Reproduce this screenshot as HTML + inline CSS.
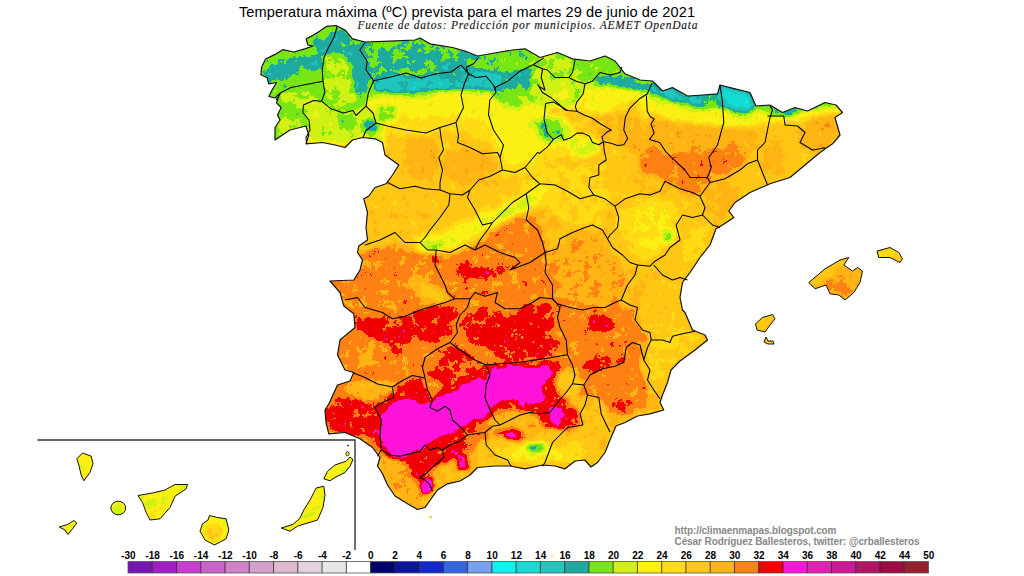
<!DOCTYPE html>
<html><head><meta charset="utf-8"><title>Temperatura maxima</title>
<style>
html,body{margin:0;padding:0;background:#fff;}
body{width:1024px;height:576px;overflow:hidden;font-family:"Liberation Sans",sans-serif;}
svg{display:block;position:absolute;left:0;top:0;}
text{font-family:"Liberation Sans",sans-serif;}
.ttl{font-size:14.6px;fill:#000;}
.sub{font-family:"Liberation Serif",serif;font-style:italic;font-size:11.5px;fill:#111;stroke:#333;stroke-width:0.15px;}
.lg{font-size:10px;font-weight:bold;fill:#000;text-anchor:middle;}
.cr{font-size:10px;font-weight:bold;fill:#888;}
</style></head><body>
<svg width="1024" height="576" viewBox="0 0 1024 576">
<defs>
<clipPath id="ml"><path d="M336,25.5 L345,30 L352.5,38.8 L365,42 L390,41.2 L415,40 L420,38 L430,43.8 L452.5,47.5 L465,51 L477.5,56 L497.5,52.5 L512.5,50 L525,48.8 L540,57.5 L557.5,52.5 L572.5,58.8 L590,61 L605,56 L615,61 L625,73.8 L640,80 L652.5,81 L662.5,91 L672.5,87.5 L687.5,96 L702.5,95 L717.5,93.8 L720,85 L735,88.8 L750,92.5 L756,106 L770,105 L782.5,112.5 L795,107.5 L807.5,111 L825,102.5 L836,105 L842.5,112.5 L835,117.5 L840,135 L832.5,143.8 L820,152.5 L805,165 L790,177.5 L770,183.8 L750,192.5 L735,202.5 L728.8,211 L733.8,217.5 L722.5,225 L716,228.8 L710,245 L700,257.5 L690,272.5 L682.5,282.5 L680,297.5 L682.5,310 L685,312.5 L692.5,330 L705,335 L707.5,340 L695,350 L680,361 L671,370 L667.5,382.5 L662.5,395 L660,402.5 L663.8,410 L650,413.8 L637.5,416 L625,422.5 L616,426 L610,440 L605,452.5 L597.5,462.5 L591,467 L585,460 L575,461 L565,468.8 L555,466 L542.5,465 L525,468.8 L510,466 L495,466 L477.5,467.5 L470,475 L460,481 L447.5,483.8 L437.5,490 L431,498.8 L425,507.5 L417.5,509.5 L407.5,503.8 L395,496 L387.5,485 L382.5,473.8 L377.5,466 L380,457.5 L372.5,447.5 L360,438.8 L345,432.5 L328.8,433.8 L326,422.5 L325,410 L328.8,404 L337.5,385 L350,381 L353.8,372.5 L345,370 L337.5,355 L340,340 L355,327.5 L353.8,313.8 L343.8,306 L340,292.5 L330,281 L353.8,280 L360,270 L362.5,260 L357.5,252.5 L358.8,246 L367.5,240 L366,227.5 L367.5,212.5 L363.8,198.8 L368.8,196 L375,187.5 L386,183.8 L392.5,175 L398.8,165 L385,155 L382.5,142.5 L375,138.8 L362.5,137.5 L352.5,140 L345,147.5 L335,145 L322.5,142.5 L306,143.8 L308.8,135 L306,126 L290,130 L275,140 L275,127.5 L280,120 L277.5,115 L281.2,107.5 L276.5,102.8 L279.7,93.4 L275,98 L268.8,96.5 L271.9,90.3 L276.5,82.5 L268.8,84 L267.2,77.8 L260.9,74.7 L261.7,66.9 L265.6,59 L275,54.4 L282.8,49.7 L293.8,52 L304.7,48.9 L313,46 L307.8,45 L306.2,38.8 L312.5,35.6 L318.8,31.7 L326.6,26.3Z"/></clipPath>
<clipPath id="isl"><path d="M808.8,282.5 L825,268.8 L840,260 L848.8,257.5 L843.8,265 L852.5,271 L857.5,267.5 L862.5,271 L860,282.5 L853.8,292.5 L845,300 L838.8,295 L830,293.8 L826,285 L815,288.8Z"/><path d="M877,251 L890,247.5 L898.8,252.5 L902.5,258.8 L900,262.5 L890,257.5 L878.8,257.5Z"/><path d="M755.5,323.8 L762.5,317.5 L772.5,314.5 L775,318.8 L770,325 L765,332 L757,330Z"/><path d="M764,342 L766,337 L768,341 L773,341 L774,344 L768,344Z"/><path d="M76.8,458.8 L82.5,453 L91.2,456.2 L93,463.8 L90,472.5 L83.8,480.8 L81.2,475 L78.8,465Z"/><path d="M59.2,527 L67.5,524.5 L73.8,520.5 L76.8,523 L72.5,528.8 L68,534.5 L65,530Z"/><path d="M138,495.5 L152.5,493 L165,490 L175,484.5 L187.5,484.5 L186.2,488.8 L175,496.2 L170,507.5 L160,518.8 L150,520 L146.2,512.5 L142.5,502.5Z"/><path d="M209.5,515.5 L217.5,517.5 L226.2,518.8 L228.8,530 L226.2,538.8 L214.5,545 L205,540 L200,531.2 L202.5,523.8 L208,520Z"/><path d="M323.8,478.8 L327.5,471.2 L335,465 L346.2,461.2 L350,457 L353,459.5 L350,466.2 L345,472.5 L335,477.5 L330,480.8Z"/><path d="M316.2,488 L323.8,486.2 L325,495 L323,507.5 L317.5,520 L305,523.8 L297.5,526.2 L290,531.2 L281.2,528 L292.5,524.5 L299.5,518.8 L303.8,510 L310,500 L313.8,492.5Z"/><ellipse cx="118.3" cy="508" rx="7.4" ry="6.8"/></clipPath>
<filter id="temp" filterUnits="userSpaceOnUse" x="0" y="0" width="1024" height="576" color-interpolation-filters="sRGB">
<feGaussianBlur in="SourceGraphic" stdDeviation="2.2" result="b"/>
<feTurbulence type="fractalNoise" baseFrequency="0.1" numOctaves="4" seed="11" result="t"/>
<feColorMatrix in="t" type="matrix" values="1 0 0 0 0  1 0 0 0 0  1 0 0 0 0  0 0 0 0 1" result="n"/>
<feComposite in="b" in2="n" operator="arithmetic" k1="0" k2="1" k3="0.13" k4="-0.065" result="v0"/>
<feTurbulence type="fractalNoise" baseFrequency="0.32" numOctaves="2" seed="5" result="t2"/>
<feColorMatrix in="t2" type="matrix" values="1 0 0 0 0  1 0 0 0 0  1 0 0 0 0  0 0 0 0 1" result="n2"/>
<feComposite in="v0" in2="n2" operator="arithmetic" k1="0" k2="1" k3="0.06" k4="-0.03" result="v"/>
<feComponentTransfer in="v">
<feFuncR type="discrete" tableValues="0.0784 0.0784 0.1176 0.1176 0.4706 0.8235 0.9804 1.0000 1.0000 1.0000 1.0000 0.9412 1.0000 1.0000 1.0000 0.7059"/>
<feFuncG type="discrete" tableValues="0.9412 0.8627 0.7843 0.6667 0.9020 0.9412 0.9412 0.8627 0.7843 0.7059 0.5098 0.0000 0.0784 0.0784 0.0784 0.0784"/>
<feFuncB type="discrete" tableValues="0.9412 0.8235 0.7451 0.6275 0.0784 0.0784 0.0784 0.0784 0.0784 0.0784 0.0784 0.0000 0.8627 0.8627 0.8627 0.3922"/>
</feComponentTransfer>
</filter>
</defs>
<rect width="1024" height="576" fill="#fff"/>

<g clip-path="url(#ml)"><g filter="url(#temp)"><rect x="0" y="0" width="1024" height="576" fill="#8f8f8f"/>
<path d="M372,120 L620,110 L640,150 L630,190 L640,200 L612,205 L600,230 L575,225 L545,212 L525,200 L490,218 L465,234 L440,246 L400,242 L360,255 L350,245 L360,225 L358,198 L385,180 L397,165 L380,150Z" fill="#878787"/>
<path d="M530,165 L600,160 L612,200 L600,226 L572,228 L548,208 L532,192Z" fill="#7d7d7d"/>
<path d="M405,138 L425,135 L438,145 L440,165 L432,182 L415,180 L405,165Z" fill="#979797"/>
<path d="M445,152 L470,148 L492,152 L496,170 L485,182 L460,184 L445,172Z" fill="#979797"/>
<path d="M372,190 L400,186 L430,195 L445,215 L440,240 L410,242 L380,240 L362,245 L366,215Z" fill="#898989"/>
<path d="M240,159 L275,157 L303,146 L322,144 L340,138 L355,132 L362,121 L370,112 L390,135 L415,137 L440,134 L465,132 L490,144 L505,176 L522,178 L535,172 L545,164 L560,156 L575,158 L590,156 L615,116 L630,107 L647,120 L665,127 L685,133 L700,136 L715,134 L725,136 L737,141 L750,141 L760,136 L775,130 L790,128 L800,129 L812,125 L870,117 L870,117 L870,0 L240,0 L240,159Z" fill="#787878"/>
<path d="M240,153 L275,151 L303,140 L322,138 L340,132 L355,126 L362,115 L370,106 L390,117 L415,119 L440,116 L465,114 L490,126 L505,162 L522,164 L535,158 L545,150 L560,144 L575,146 L590,144 L615,106 L630,99 L647,110 L665,117 L685,123 L700,126 L715,124 L725,126 L737,131 L750,131 L760,126 L775,123 L790,121 L800,122 L812,118 L870,110 L870,110 L870,0 L240,0 L240,153Z" fill="#686868"/>
<path d="M240,147 L275,145 L303,134 L322,132 L340,126 L355,120 L362,109 L370,100 L390,97 L415,99 L440,96 L465,94 L490,96 L505,108 L522,110 L535,104 L545,96 L560,88 L575,90 L590,88 L615,88 L630,91 L647,97 L665,104 L685,110 L700,113 L715,111 L725,113 L737,118 L750,118 L760,113 L775,117 L790,115 L800,116 L812,112 L870,104 L870,104 L870,0 L240,0 L240,147Z" fill="#585858"/>
<path d="M240,143 L275,141 L303,130 L322,128 L340,122 L355,116 L362,105 L370,96 L390,93 L415,95 L440,92 L465,90 L490,92 L505,104 L522,106 L535,100 L545,92 L560,84 L575,86 L590,84 L615,84 L630,87 L647,93 L665,100 L685,106 L700,109 L715,107 L725,109 L737,114 L750,114 L760,109 L775,113 L790,111 L800,112 L812,108 L870,100 L870,100 L870,0 L240,0 L240,143Z" fill="#484848"/>
<path d="M552,106 L575,108 L600,116 L625,128 L640,140 L620,150 L600,142 L580,134 L560,124 L548,114Z" fill="#838383"/>
<path d="M590,118 L615,112 L640,118 L660,130 L660,150 L640,155 L620,148 L600,136Z" fill="#939393"/>
<path d="M530,118 L555,114 L572,124 L570,140 L552,146 L536,138Z" fill="#585858"/>
<path d="M538,122 L556,119 L566,128 L562,138 L548,141 L540,133Z" fill="#444444"/>
<path d="M572,138 L596,140 L600,152 L585,158 L570,152Z" fill="#5c5c5c"/>
<path d="M240,40 L310,30 L336,20 L332,52 L324,60 L322,100 L310,104 L303,128 L275,141 L240,146Z" fill="#474747"/>
<path d="M268,66 L281,59 L306,55 L321,57 L323,65 L318,70 L301,69 L286,74 L276,82 L268,87 L263,77Z" fill="#383838"/>
<path d="M313,42 L331,35 L338,28 L348,35 L356,45 L366,47 L366,60 L373,70 L368,85 L361,97 L356,92 L353,80 L351,65 L343,55 L331,52 L323,57 L316,52Z" fill="#363636"/>
<path d="M328,57 L343,55 L351,70 L353,90 L356,100 L351,107 L338,105 L328,100 L325,85 L326,67Z" fill="#535353"/>
<path d="M282,94 L305,90 L318,98 L312,106 L300,108 L286,106Z" fill="#545454"/>
<path d="M280,120 L300,116 L304,128 L290,132 L277,136Z" fill="#545454"/>
<path d="M302,106 L321,102 L331,110 L343,112 L353,111 L358,116 L366,106 L373,112 L385,118 L385,150 L366,137 L356,140 L343,146 L331,143 L318,144 L307,145 L311,132 L306,120Z" fill="#585858"/>
<path d="M337,116 L352,114 L356,124 L350,131 L339,129Z" fill="#444444"/>
<path d="M364,120 L374,116 L378,128 L371,138 L363,132Z" fill="#3c3c3c"/>
<path d="M376,106 L396,106 L397,120 L380,121Z" fill="#484848"/>
<path d="M361,44 L420,36 L480,54 L500,54 L500,70 L470,70 L448,72 L418,77 L396,74 L373,80 L366,60Z" fill="#414141"/>
<path d="M380,52 L410,50 L430,52 L450,58 L452,66 L430,68 L408,68 L388,70 L378,62Z" fill="#3c3c3c"/>
<path d="M372,80 L396,74 L418,77 L448,72 L470,69 L490,72 L505,76 L520,82 L522,90 L505,91 L490,90 L470,89 L448,89 L431,90 L411,92 L391,93 L376,91Z" fill="#292929"/>
<path d="M440,60 L462,62 L472,70 L470,86 L448,86 L440,76Z" fill="#343434"/>
<path d="M503,74 L528,67 L552,70 L560,80 L545,89 L522,90 L505,86Z" fill="#383838"/>
<path d="M490,90 L525,88 L530,100 L520,108 L500,106Z" fill="#4c4c4c"/>
<path d="M528,52 L572,58 L580,72 L584,92 L572,106 L545,108 L530,100 L530,80 L538,60Z" fill="#515151"/>
<path d="M540,82 L570,80 L576,98 L556,106 L540,100Z" fill="#5b5b5b"/>
<path d="M575,58 L605,55 L625,74 L640,80 L640,88 L600,86 L584,88 L580,72Z" fill="#494949"/>
<path d="M596,76 L622,74 L645,84 L650,92 L632,90 L612,86 L598,84Z" fill="#383838"/>
<path d="M648,82 L662,91 L672,87 L687,96 L702,95 L717,94 L720,85 L735,89 L750,92 L756,106 L750,112 L737,112 L725,107 L715,105 L700,107 L685,103 L672,100 L660,97 L650,92Z" fill="#2b2b2b"/>
<path d="M722,88 L748,94 L752,106 L738,108 L726,102Z" fill="#161616"/>
<path d="M701,99 L716,98 L718,105 L703,107Z" fill="#484848"/>
<path d="M768,105 L782,112 L795,107 L802,112 L786,117 L772,113Z" fill="#383838"/>
<path d="M745,126 L800,121 L845,112 L845,140 L800,175 L750,200 L735,215 L715,232 L700,262 L685,290 L688,320 L705,340 L680,365 L665,390 L640,395 L630,350 L640,310 L650,270 L625,265 L610,240 L612,205 L640,192 L690,198 L720,188 L745,165Z" fill="#878787"/>
<path d="M650,118 L700,124 L745,128 L760,135 L760,150 L745,152 L700,152 L660,156 L640,150 L640,128Z" fill="#979797"/>
<path d="M805,120 L838,112 L842,135 L825,150 L805,150 L795,135Z" fill="#979797"/>
<path d="M765,140 L785,138 L790,160 L780,178 L765,178 L760,160Z" fill="#949494"/>
<path d="M640,158 L665,155 L680,152 L702,150 L722,147 L745,150 L747,160 L735,170 L715,177 L710,187 L697,195 L680,190 L667,182 L655,174 L640,170Z" fill="#a7a7a7"/>
<path d="M635,150 L650,146 L665,152 L660,160 L640,162Z" fill="#a7a7a7"/>
<path d="M702,185 L730,180 L745,190 L735,205 L722,222 L706,212Z" fill="#949494"/>
<path d="M620,207 L635,198 L655,196 L672,202 L682,215 L680,235 L668,248 L655,258 L640,260 L627,250 L620,235 L616,220Z" fill="#7c7c7c"/>
<path d="M635,208 L655,204 L670,212 L674,232 L662,246 L648,252 L634,244 L628,226Z" fill="#707070"/>
<path d="M660,230 L672,229 L675,241 L664,245Z" fill="#505050"/>
<path d="M690,225 L712,225 L706,245 L694,262 L684,262 L686,240Z" fill="#7c7c7c"/>
<path d="M414,236 L436,230 L455,224 L478,212 L500,201 L522,189 L540,178 L556,186 L544,203 L526,216 L504,228 L482,239 L460,250 L436,257 L416,256Z" fill="#797979"/>
<path d="M418,240 L436,235 L455,229 L478,218 L500,208 L522,196 L540,184 L550,188 L538,201 L521,212 L500,223 L478,233 L456,244 L436,252 L420,252Z" fill="#646464"/>
<path d="M422,242 L438,240 L446,244 L440,250 L426,252Z" fill="#545454"/>
<path d="M498,212 L522,199 L533,192 L540,198 L523,211 L505,220Z" fill="#5a5a5a"/>
<path d="M350,262 L357,252 L375,247 L395,243 L407,251 L425,253 L435,253 L450,255 L470,247 L480,240 L490,231 L505,222 L520,213 L530,214 L540,222 L545,240 L548,252 L548,262 L556,280 L560,296 L575,300 L590,304 L600,306 L617,300 L625,310 L637,305 L640,325 L650,342 L645,350 L640,365 L645,382 L650,395 L645,407 L635,412 L622,417 L610,412 L600,400 L585,395 L570,400 L555,410 L540,415 L525,412 L510,420 L500,432 L490,445 L475,455 L460,462 L445,470 L435,480 L425,495 L415,505 L400,498 L390,485 L383,470 L378,458 L370,447 L355,437 L330,434 L320,410 L335,385 L350,375 L335,355 L338,340 L356,327 L352,313 L342,305 L338,290 L328,281 L352,279Z" fill="#a5a5a5"/>
<path d="M548,252 L560,247 L572,236 L590,231 L600,241 L608,258 L620,266 L628,280 L620,298 L600,305 L580,300 L562,292 L552,272Z" fill="#9c9c9c"/>
<path d="M408,276 L420,276 L436,284 L450,296 L448,304 L434,304 L420,296 L410,286Z" fill="#949494"/>
<path d="M416,281 L426,283 L440,293 L444,300 L436,300 L424,293Z" fill="#838383"/>
<path d="M357,350 L372,348 L374,360 L360,363Z" fill="#939393"/>
<path d="M345,385 L370,380 L392,384 L396,396 L375,400 L350,398Z" fill="#979797"/>
<path d="M452,267 L465,261 L485,268 L502,267 L510,270 L498,276 L482,280 L465,278 L452,276Z" fill="#b6b6b6"/>
<path d="M432,257 L441,256 L442,262 L433,262Z" fill="#b7b7b7"/>
<path d="M355,318.5 L370,314.8 L395,321 L415,311 L430,306 L450,303.5 L460,308.5 L455,321 L450,333.5 L440,341 L427.5,343.5 L415,338.5 L405,346 L397.5,356 L390,346 L377.5,341 L365,333.5 L355,328.5Z" fill="#b6b6b6"/>
<path d="M465,316 L480,306 L495,311 L515,313.5 L532.5,301 L550,303.5 L560,311 L555,321 L552.5,336 L560,346 L555,356 L540,358.5 L525,356 L515,361 L500,358.5 L490,351 L480,346 L470,343.5 L460,336 L460,323.5Z" fill="#b4b4b4"/>
<path d="M500,318 L530,310 L548,315 L546,335 L530,345 L505,345 L492,335Z" fill="#b6b6b6"/>
<path d="M437.5,346 L455,343.5 L470,353.5 L485,363.5 L495,368.5 L500,376 L485,381 L470,383.5 L460,391 L445,388.5 L432.5,381 L430,371 L437.5,361 L440,353.5Z" fill="#b2b2b2"/>
<path d="M587,317 L600,314 L612,316 L615,325 L610,334 L597,336 L590,332 L586,325Z" fill="#b6b6b6"/>
<path d="M325,411 L332.5,401 L345,396 L360,398.5 L370,406 L380,403.5 L377.5,416 L380,436 L350,436 L330,431Z" fill="#b6b6b6"/>
<path d="M375,403.5 L395,391 L405,381 L420,378.5 L427.5,391 L430,401 L420,403.5 L405,398.5 L390,406 L380,418.5Z" fill="#b7b7b7"/>
<path d="M378,420 L390,404 L405,396 L420,400 L430,402 L438,392 L453,387 L468,380 L480,374 L488,366 L500,362 L520,360 L540,360 L556,362 L566,370 L572,380 L566,392 L570,405 L580,412 L575,425 L560,430 L545,425 L530,412 L515,410 L500,408 L492,415 L485,425 L475,430 L465,434 L470,448 L462,460 L452,468 L445,478 L436,486 L428,492 L420,486 L412,474 L406,464 L395,460 L382,452 L376,440Z" fill="#b6b6b6"/>
<path d="M488,420 L505,412 L530,414 L545,428 L530,436 L510,436 L492,432Z" fill="#979797"/>
<path d="M537,407 L560,402 L578,410 L580,425 L565,432 L545,428Z" fill="#b7b7b7"/>
<path d="M547,408 L560,406 L566,414 L562,422 L550,421Z" fill="#c7c7c7"/>
<path d="M495,431 L512,428 L525,433 L524,445 L508,447 L496,442Z" fill="#b7b7b7"/>
<path d="M505,433 L517,432 L519,441 L508,442Z" fill="#c7c7c7"/>
<path d="M580,364 L598,356 L624,352 L628,360 L612,368 L594,373 L582,371Z" fill="#b3b3b3"/>
<path d="M609,400 L628,397 L634,406 L622,412 L611,410Z" fill="#b4b4b4"/>
<path d="M380,418.5 L390,406 L405,398.5 L420,403.5 L430,406 L440,396 L455,391 L470,383.5 L480,378.5 L487.5,381 L490,371 L500,368.5 L520,366 L535,368.5 L545,366 L552.5,371 L545,381 L540,391 L545,401 L535,403.5 L520,401 L510,398.5 L500,401 L490,406 L487.5,413.5 L480,418.5 L470,421 L460,427.5 L452.5,430 L442.5,435 L430,442.5 L417.5,450 L405,456 L395,455 L382.5,445Z" fill="#d2d2d2"/>
<path d="M480,442 L500,436 L520,444 L545,434 L570,432 L600,418 L615,425 L605,455 L592,468 L560,470 L520,470 L480,468 L470,458Z" fill="#8a8a8a"/>
<path d="M495,447 L515,442 L540,440 L560,446 L575,442 L590,450 L580,462 L550,466 L520,466 L500,460Z" fill="#7a7a7a"/>
<path d="M515,446 L540,442 L555,448 L550,460 L525,462 L512,455Z" fill="#6c6c6c"/>
<path d="M524,445 L543,442 L546,452 L530,455Z" fill="#484848"/>
<path d="M528,446 L540,444 L542,450 L531,452Z" fill="#3b3b3b"/>
<path d="M553,455 L560,453 L562,460 L555,461Z" fill="#686868"/>
<path d="M559,372 L576,368 L583,384 L576,399 L562,397 L556,386Z" fill="#898989"/>
<path d="M432,470 L450,462 L470,452 L482,455 L478,468 L462,478 L447,484 L436,490Z" fill="#8f8f8f"/>
<path d="M455,456 L468,454 L471,470 L458,472Z" fill="#b7b7b7"/>
<path d="M380,457 L395,460 L410,470 L415,485 L425,495 L417,508 L400,500 L390,487 L383,472Z" fill="#9b9b9b"/>
<path d="M408,466 L422,470 L430,482 L432,492 L424,494 L415,482Z" fill="#b4b4b4"/>
<path d="M650,330 L672,325 L700,332 L705,340 L690,352 L672,368 L660,385 L648,378 L648,352Z" fill="#7f7f7f"/>
<path d="M421,481 L431,479 L433,492 L423,494Z" fill="#d3d3d3"/>
<path d="M458,458 L466,457 L468,468 L460,470Z" fill="#cccccc"/>
</g></g>
<g clip-path="url(#isl)"><g filter="url(#temp)"><rect x="0" y="0" width="1024" height="576" fill="#686868"/>
<path d="M800,262 L870,255 L870,305 L800,305Z" fill="#979797"/>
<path d="M806,283 L825,267 L840,259 L847,261 L832,273 L816,287Z" fill="#878787"/>
<path d="M826,280 L835,277 L845,282 L852,285 L850,293 L845,299 L839,294 L830,292Z" fill="#a7a7a7"/>
<path d="M870,240 L910,240 L910,270 L870,270Z" fill="#818181"/>
<path d="M750,310 L780,310 L780,350 L750,350Z" fill="#878787"/>
<path d="M0,440 L360,440 L360,550 L0,550Z" fill="#646464"/>
<path d="M146,499 L156,497 L158,505 L150,507Z" fill="#585858"/>
<path d="M112,503 L124,503 L124,513 L112,513Z" fill="#5c5c5c"/>
<path d="M206,526 L216,523 L224,528 L222,538 L213,542 L205,536Z" fill="#808080"/>
<path d="M150,508 L166,505 L164,516 L152,519Z" fill="#707070"/>
</g></g>
<g fill="none" stroke="#000" stroke-width="1.05" stroke-linejoin="round">
<path d="M337.2,26.2 L334,37.5 L328.5,47.5 L324,57.5 L322.2,70 L323,81.2"/>
<path d="M323,81.2 L306,84.5 L291,87.5 L281,92.5 L276,100"/>
<path d="M323,81.2 L324.8,92.5 L321.5,101.2"/>
<path d="M321.5,101.2 L313.5,100.5 L303.5,105 L302.8,112.5 L309,120 L310,130 L306,137.5 L306.5,143"/>
<path d="M321.5,101.2 L331,108.8 L343.5,113 L353,110.5 L356,115.5 L366,106.2"/>
<path d="M364.8,43 L359.8,50 L367.2,61.2 L366,70 L373.5,80.8 L368.5,92.5 L366,106.2"/>
<path d="M366,106.2 L373,113 L376,123 L366,130.5 L363,137.5"/>
<path d="M376,123 L388.5,126.2 L406,130 L426,133 L439.8,127.5"/>
<path d="M373.5,80.8 L391,77 L406,73 L421,78 L436,73.8 L451,72 L461,65 L468.5,73.8"/>
<path d="M478.5,57.5 L473.5,63.8 L466,67.5 L468.5,73.8"/>
<path d="M468.5,73.8 L464.8,82.5 L461,95 L463.5,107.5 L456,122.5"/>
<path d="M456,122.5 L448.5,125 L439.8,127.5 L441,137.5 L443.5,150 L438.8,157.5 L442.5,170 L440,182.5 L440,190"/>
<path d="M456,122.5 L458.5,135 L457.5,142.5 L470,147.5 L482.5,153.8 L497.5,152.5 L500,157.5"/>
<path d="M468.5,73.8 L476,77.5 L486,76.2 L493.5,85 L496,92.5"/>
<path d="M496,92.5 L489.8,100 L488.5,115 L493.5,130 L503.5,145 L500,157.5"/>
<path d="M496,92.5 L495,87.5 L507.5,81.2 L520,71.2 L532.5,65 L543.8,58"/>
<path d="M575,60 L572.5,72.5 L568.8,77.5"/>
<path d="M568.8,77.5 L555,77.5 L547.5,70 L542.5,68.8 L533.8,65"/>
<path d="M542.5,68.8 L541.2,77.5 L545,90 L538.8,86.2 L537.8,84.7 L542.5,92.5 L550.3,97.2 L558.1,103.4 L564.4,109.7 L567.5,110.5"/>
<path d="M622,67 L620,72.5 L610,75 L600,72.5 L592.5,81.2 L585,83.8"/>
<path d="M568.8,77.5 L576.2,81.2 L585,83.8"/>
<path d="M585,83.8 L583.1,94 L576.9,101.9 L575.3,106.6 L576.9,111.2"/>
<path d="M545.6,103.4 L553.4,101.9 L561.2,106.5 L567.5,110.5 L576.9,111.2 L584.7,115.2 L592.5,118.3 L600.3,123.8 L608.1,128.4 L611.2,130 L606.6,132.3 L601.9,137 L603.4,141.7"/>
<path d="M545.6,103.4 L544,119 L547.2,133.1 L553.4,139.4 L561.2,134.7 L563.6,140.2 L570.6,137.8 L576.9,133.1 L583.1,133.1 L589.4,136.2 L592.5,142.5 L598.8,144.8 L603.4,141.7"/>
<path d="M651.9,83.1 L647.2,94 L639.4,98.8 L630,108.1 L625.3,117.5 L623.8,130 L627.7,138.6 L623.8,144.8 L617.5,145.6 L611.2,143.3 L603.4,141.7"/>
<path d="M646.4,95.6 L647.2,111.2 L650.3,116.7 L654.2,119 L651,124 L654.2,133.1 L649.5,139.4 L659.7,142.5 L665.9,151.9 L673.8,159.7 L685,170 L690,177.5 L700,177.5 L707.5,177.5"/>
<path d="M603.4,141.7 L604.2,150.3 L606.2,160 L598.8,165 L598.8,175 L590,177.5 L588.8,187.5 L593.8,195"/>
<path d="M553.4,139.4 L547.2,147.2 L539.4,153.4 L537.5,152.5 L525,167.5"/>
<path d="M500,157.5 L502.5,170 L515,172.5 L525,167.5"/>
<path d="M525,167.5 L532.5,177.5 L540,183.8 L555,185 L567.5,191.2 L580,198.8 L593.8,195"/>
<path d="M387.5,182.5 L400,188.8 L415,186.2 L425,188.8 L440,190 L450,193.8 L462.5,195 L470,190 L478.8,180 L490,176.2 L502.5,170"/>
<path d="M470,190 L467.5,197.5 L475,210 L482.5,225 L492.5,222.5 L500,215 L512.5,202.5 L526.2,193.8 L540,183.8"/>
<path d="M450,193.8 L448.8,205 L440,217.5 L430,230 L425,237.5 L420,242.5"/>
<path d="M365,245 L380,240 L395,232.5 L405,242.5 L420,242.5 L427.5,250 L436.2,250 L450,252.5 L465,245 L475,250 L480,240 L487.5,230 L492.5,222.5"/>
<path d="M526.2,193.8 L528.8,207.5 L526.2,220 L537.5,230 L542.5,242.5 L545,252.5"/>
<path d="M475,250 L485,245 L500,252.5 L515,257.5 L520,262.5 L510,270 L530,262.5 L545,252.5"/>
<path d="M545,252.5 L557.5,248.8 L560,238.8 L572.5,232.5 L585,227.5 L592.5,225 L602.5,230 L607.5,238.8"/>
<path d="M593.8,195 L605,198.8 L615,206.2 L618.8,217.5 L617.5,227.5 L610,235 L607.5,238.8 L612.5,247.5 L622.5,255 L630,262.5 L637.5,265"/>
<path d="M615,206.2 L625,198.8 L640,193.8 L650,195 L660,191.2 L665,181.2 L680,188.8 L692.5,192.5 L700,196.2"/>
<path d="M637.5,265 L650,266.2 L655,261.2 L665,255 L670,247.5 L680,240 L676.2,225 L682.5,215 L692.5,217.5 L702.5,215"/>
<path d="M653.8,265 L662.5,275 L672.5,280 L680,277.5 L687.5,280"/>
<path d="M700,196.2 L705,207.5 L702.5,215 L712.5,225 L720,227.5"/>
<path d="M700,196.2 L710,182.5 L707.5,177.5"/>
<path d="M637.5,265 L635,275 L627.5,285 L621.2,300"/>
<path d="M720,85 L722.5,102.5 L723.8,122.5 L717.5,145 L708.8,157.5 L711.2,167.5 L707.5,177.5"/>
<path d="M710,182.5 L725,178.8 L740,170 L747.5,163.8 L757.5,160"/>
<path d="M757.5,160 L757.5,150 L765,142.5 L767.5,130 L770,117.5 L772.5,110 L770,106"/>
<path d="M767.5,116 L783.8,116 L785,125 L797.5,126 L805,132.5 L800,142.5 L812.5,150 L820,148.8 L825,147.5"/>
<path d="M757.5,160 L762.5,172.5 L767.5,185"/>
<path d="M436.2,250 L435,265 L440,275 L445,285 L447.5,292.5 L455,298.8 L470,298.8 L475,292.5"/>
<path d="M345,300 L357.5,297.5 L365,307.5 L382.5,312.5 L392.5,318.8 L405,316.2 L420,310 L432.5,306.2 L445,302.5 L455,298.8"/>
<path d="M475,292.5 L485,296.2 L497.5,292.5 L495,302.5 L505,308.8 L520,308.8 L532.5,302.5 L540,297.5 L552.5,298.8"/>
<path d="M470,298.8 L467.5,307.5 L460,315 L456.2,325 L457.5,332.5 L450,342.5"/>
<path d="M450,342.5 L437.5,348.8 L425,357.5 L422.5,367.5 L425,377.5"/>
<path d="M450,342.5 L460,350 L475,360 L486.2,365"/>
<path d="M486.2,365 L500,363.8 L517.5,362.5 L535,360 L552.5,357.5 L565,355 L567.5,355"/>
<path d="M545,252.5 L546.2,262.5 L545,272.5 L552.5,285 L552.5,298.8 L560,307.5 L557.5,317.5 L560,327.5 L566.2,340 L567.5,355"/>
<path d="M352.5,372.5 L365,377.5 L377.5,384 L392.5,387 L402.5,380.5 L412.5,375.5 L425,378"/>
<path d="M552.5,298.8 L557.5,303.8 L570,307.5 L582.5,310 L593.8,307.5 L605,307.5 L615,302.5 L621.2,300"/>
<path d="M621.2,300 L630,305 L637.5,307.5 L635,320 L642.5,330 L650,332.5 L651.2,340"/>
<path d="M651.2,340 L662.5,340 L670,342.5 L672.5,336.2 L682.5,333.8 L695,331.2"/>
<path d="M651.2,340 L647.5,347.5 L643.8,360 L650,370 L647.5,380 L653.8,390 L660,398.8"/>
<path d="M643.8,360 L640,345 L632.5,342.5 L626.2,347.5 L623.8,362.5 L615,366.2 L602.5,368.8 L590,375 L583.8,385"/>
<path d="M567.5,355 L572.5,365 L575,375 L572.5,383.8 L583.8,385 L587.5,395 L585,405 L580,414 L583,425"/>
<path d="M587.5,395 L598.8,397.5 L601.2,414 L606,424 L610,432"/>
<path d="M572.5,383.8 L566.2,392.5 L557.5,402.5 L550,412.5 L540,413.8 L530,412.5 L520,415 L510,420 L500,425"/>
<path d="M392.5,387.5 L393.8,397.5 L382.5,402.5 L375,407.5 L381.2,420 L380,435 L381.2,450 L377.5,456.2"/>
<path d="M425,378 L427.5,390 L432.5,400 L430,407.5 L437.5,411.2 L445,406.2 L450,410 L452.5,420 L462.5,428.8 L467.5,435"/>
<path d="M486.2,365 L490,375 L486.2,385 L485,397.5 L490,410 L495,420 L500,425"/>
<path d="M467.5,435 L475,433.8 L485,432.5 L492.5,426.2 L500,425"/>
<path d="M467.5,435 L460,441.2 L450,445 L442.5,450 L437.5,447.5 L430,450 L425,445 L420,451.2 L410,453.8 L400,456.2 L390,455 L381.2,450"/>
<path d="M442.5,450 L443.8,457.5 L435,465 L427.5,472.5 L420,477.5 L425,480 L430,485 L432.5,491.2"/>
<path d="M485,432.5 L486.2,445 L495,455 L507.5,460 L511.2,466.2"/>
<path d="M583,425 L567.5,427.5 L560,435 L552.5,442.5 L548.8,452.5 L545,462.5 L542.5,466.2"/>
</g>
<path d="M336,25.5 L345,30 L352.5,38.8 L365,42 L390,41.2 L415,40 L420,38 L430,43.8 L452.5,47.5 L465,51 L477.5,56 L497.5,52.5 L512.5,50 L525,48.8 L540,57.5 L557.5,52.5 L572.5,58.8 L590,61 L605,56 L615,61 L625,73.8 L640,80 L652.5,81 L662.5,91 L672.5,87.5 L687.5,96 L702.5,95 L717.5,93.8 L720,85 L735,88.8 L750,92.5 L756,106 L770,105 L782.5,112.5 L795,107.5 L807.5,111 L825,102.5 L836,105 L842.5,112.5 L835,117.5 L840,135 L832.5,143.8 L820,152.5 L805,165 L790,177.5 L770,183.8 L750,192.5 L735,202.5 L728.8,211 L733.8,217.5 L722.5,225 L716,228.8 L710,245 L700,257.5 L690,272.5 L682.5,282.5 L680,297.5 L682.5,310 L685,312.5 L692.5,330 L705,335 L707.5,340 L695,350 L680,361 L671,370 L667.5,382.5 L662.5,395 L660,402.5 L663.8,410 L650,413.8 L637.5,416 L625,422.5 L616,426 L610,440 L605,452.5 L597.5,462.5 L591,467 L585,460 L575,461 L565,468.8 L555,466 L542.5,465 L525,468.8 L510,466 L495,466 L477.5,467.5 L470,475 L460,481 L447.5,483.8 L437.5,490 L431,498.8 L425,507.5 L417.5,509.5 L407.5,503.8 L395,496 L387.5,485 L382.5,473.8 L377.5,466 L380,457.5 L372.5,447.5 L360,438.8 L345,432.5 L328.8,433.8 L326,422.5 L325,410 L328.8,404 L337.5,385 L350,381 L353.8,372.5 L345,370 L337.5,355 L340,340 L355,327.5 L353.8,313.8 L343.8,306 L340,292.5 L330,281 L353.8,280 L360,270 L362.5,260 L357.5,252.5 L358.8,246 L367.5,240 L366,227.5 L367.5,212.5 L363.8,198.8 L368.8,196 L375,187.5 L386,183.8 L392.5,175 L398.8,165 L385,155 L382.5,142.5 L375,138.8 L362.5,137.5 L352.5,140 L345,147.5 L335,145 L322.5,142.5 L306,143.8 L308.8,135 L306,126 L290,130 L275,140 L275,127.5 L280,120 L277.5,115 L281.2,107.5 L276.5,102.8 L279.7,93.4 L275,98 L268.8,96.5 L271.9,90.3 L276.5,82.5 L268.8,84 L267.2,77.8 L260.9,74.7 L261.7,66.9 L265.6,59 L275,54.4 L282.8,49.7 L293.8,52 L304.7,48.9 L313,46 L307.8,45 L306.2,38.8 L312.5,35.6 L318.8,31.7 L326.6,26.3Z" fill="none" stroke="#111" stroke-width="1.2" stroke-linejoin="round"/>
<path d="M808.8,282.5 L825,268.8 L840,260 L848.8,257.5 L843.8,265 L852.5,271 L857.5,267.5 L862.5,271 L860,282.5 L853.8,292.5 L845,300 L838.8,295 L830,293.8 L826,285 L815,288.8Z" fill="none" stroke="#111" stroke-width="1" stroke-linejoin="round"/>
<path d="M877,251 L890,247.5 L898.8,252.5 L902.5,258.8 L900,262.5 L890,257.5 L878.8,257.5Z" fill="none" stroke="#111" stroke-width="1" stroke-linejoin="round"/>
<path d="M755.5,323.8 L762.5,317.5 L772.5,314.5 L775,318.8 L770,325 L765,332 L757,330Z" fill="none" stroke="#111" stroke-width="1" stroke-linejoin="round"/>
<path d="M764,342 L766,337 L768,341 L773,341 L774,344 L768,344Z" fill="none" stroke="#111" stroke-width="1" stroke-linejoin="round"/>
<path d="M76.8,458.8 L82.5,453 L91.2,456.2 L93,463.8 L90,472.5 L83.8,480.8 L81.2,475 L78.8,465Z" fill="none" stroke="#111" stroke-width="1" stroke-linejoin="round"/>
<path d="M59.2,527 L67.5,524.5 L73.8,520.5 L76.8,523 L72.5,528.8 L68,534.5 L65,530Z" fill="none" stroke="#111" stroke-width="1" stroke-linejoin="round"/>
<path d="M138,495.5 L152.5,493 L165,490 L175,484.5 L187.5,484.5 L186.2,488.8 L175,496.2 L170,507.5 L160,518.8 L150,520 L146.2,512.5 L142.5,502.5Z" fill="none" stroke="#111" stroke-width="1" stroke-linejoin="round"/>
<path d="M209.5,515.5 L217.5,517.5 L226.2,518.8 L228.8,530 L226.2,538.8 L214.5,545 L205,540 L200,531.2 L202.5,523.8 L208,520Z" fill="none" stroke="#111" stroke-width="1" stroke-linejoin="round"/>
<path d="M323.8,478.8 L327.5,471.2 L335,465 L346.2,461.2 L350,457 L353,459.5 L350,466.2 L345,472.5 L335,477.5 L330,480.8Z" fill="none" stroke="#111" stroke-width="1" stroke-linejoin="round"/>
<path d="M316.2,488 L323.8,486.2 L325,495 L323,507.5 L317.5,520 L305,523.8 L297.5,526.2 L290,531.2 L281.2,528 L292.5,524.5 L299.5,518.8 L303.8,510 L310,500 L313.8,492.5Z" fill="none" stroke="#111" stroke-width="1" stroke-linejoin="round"/>
<ellipse cx="118.3" cy="508" rx="7.4" ry="6.8" fill="none" stroke="#111" stroke-width="1"/>
<ellipse cx="347.5" cy="453.8" rx="1.6" ry="2.2" fill="#F5F014" stroke="#111" stroke-width="0.8"/>
<circle cx="348" cy="445.5" r="0.9" fill="#333"/>
<circle cx="430.5" cy="517" r="1.6" fill="#E6DC50"/>
<circle cx="552" cy="556" r="1.1" fill="#F0E650"/>
<path d="M37.5,440 L355,440 L355,550" fill="none" stroke="#333" stroke-width="1.4"/>
<rect x="128.00" y="561.5" width="24.31" height="11.5" fill="#7814B4"/>
<rect x="152.26" y="561.5" width="24.31" height="11.5" fill="#A01EC3"/>
<rect x="176.52" y="561.5" width="24.31" height="11.5" fill="#C83CD2"/>
<rect x="200.77" y="561.5" width="24.31" height="11.5" fill="#C864C8"/>
<rect x="225.03" y="561.5" width="24.31" height="11.5" fill="#D282C8"/>
<rect x="249.29" y="561.5" width="24.31" height="11.5" fill="#D2A0C8"/>
<rect x="273.55" y="561.5" width="24.31" height="11.5" fill="#DCB9CD"/>
<rect x="297.80" y="561.5" width="24.31" height="11.5" fill="#E1D2DC"/>
<rect x="322.06" y="561.5" width="24.31" height="11.5" fill="#E6E6E6"/>
<rect x="346.32" y="561.5" width="24.31" height="11.5" fill="#FFFFFF"/>
<rect x="370.58" y="561.5" width="24.31" height="11.5" fill="#00006E"/>
<rect x="394.83" y="561.5" width="24.31" height="11.5" fill="#0A14A0"/>
<rect x="419.09" y="561.5" width="24.31" height="11.5" fill="#1428D2"/>
<rect x="443.35" y="561.5" width="24.31" height="11.5" fill="#3264E6"/>
<rect x="467.61" y="561.5" width="24.31" height="11.5" fill="#78A0F0"/>
<rect x="491.86" y="561.5" width="24.31" height="11.5" fill="#14F0F0"/>
<rect x="516.12" y="561.5" width="24.31" height="11.5" fill="#14DCD2"/>
<rect x="540.38" y="561.5" width="24.31" height="11.5" fill="#1EC8BE"/>
<rect x="564.64" y="561.5" width="24.31" height="11.5" fill="#1EAAA0"/>
<rect x="588.89" y="561.5" width="24.31" height="11.5" fill="#78E614"/>
<rect x="613.15" y="561.5" width="24.31" height="11.5" fill="#D2F014"/>
<rect x="637.41" y="561.5" width="24.31" height="11.5" fill="#FAF014"/>
<rect x="661.67" y="561.5" width="24.31" height="11.5" fill="#FFDC14"/>
<rect x="685.92" y="561.5" width="24.31" height="11.5" fill="#FFC814"/>
<rect x="710.18" y="561.5" width="24.31" height="11.5" fill="#FFB414"/>
<rect x="734.44" y="561.5" width="24.31" height="11.5" fill="#FF8214"/>
<rect x="758.70" y="561.5" width="24.31" height="11.5" fill="#F00000"/>
<rect x="782.95" y="561.5" width="24.31" height="11.5" fill="#FF14DC"/>
<rect x="807.21" y="561.5" width="24.31" height="11.5" fill="#E61EB4"/>
<rect x="831.47" y="561.5" width="24.31" height="11.5" fill="#D21496"/>
<rect x="855.73" y="561.5" width="24.31" height="11.5" fill="#B41464"/>
<rect x="879.98" y="561.5" width="24.31" height="11.5" fill="#A00A46"/>
<rect x="904.24" y="561.5" width="24.31" height="11.5" fill="#96202C"/>
<rect x="128.00" y="561.5" width="800.50" height="11.5" fill="none" stroke="#555" stroke-width="0.8"/>
<line x1="152.26" y1="561.5" x2="152.26" y2="573" stroke="#222" stroke-width="0.8"/>
<line x1="176.52" y1="561.5" x2="176.52" y2="573" stroke="#222" stroke-width="0.8"/>
<line x1="200.77" y1="561.5" x2="200.77" y2="573" stroke="#222" stroke-width="0.8"/>
<line x1="225.03" y1="561.5" x2="225.03" y2="573" stroke="#222" stroke-width="0.8"/>
<line x1="249.29" y1="561.5" x2="249.29" y2="573" stroke="#222" stroke-width="0.8"/>
<line x1="273.55" y1="561.5" x2="273.55" y2="573" stroke="#222" stroke-width="0.8"/>
<line x1="297.80" y1="561.5" x2="297.80" y2="573" stroke="#222" stroke-width="0.8"/>
<line x1="322.06" y1="561.5" x2="322.06" y2="573" stroke="#222" stroke-width="0.8"/>
<line x1="346.32" y1="561.5" x2="346.32" y2="573" stroke="#222" stroke-width="0.8"/>
<line x1="370.58" y1="561.5" x2="370.58" y2="573" stroke="#222" stroke-width="0.8"/>
<line x1="394.83" y1="561.5" x2="394.83" y2="573" stroke="#222" stroke-width="0.8"/>
<line x1="419.09" y1="561.5" x2="419.09" y2="573" stroke="#222" stroke-width="0.8"/>
<line x1="443.35" y1="561.5" x2="443.35" y2="573" stroke="#222" stroke-width="0.8"/>
<line x1="467.61" y1="561.5" x2="467.61" y2="573" stroke="#222" stroke-width="0.8"/>
<line x1="491.86" y1="561.5" x2="491.86" y2="573" stroke="#222" stroke-width="0.8"/>
<line x1="516.12" y1="561.5" x2="516.12" y2="573" stroke="#222" stroke-width="0.8"/>
<line x1="540.38" y1="561.5" x2="540.38" y2="573" stroke="#222" stroke-width="0.8"/>
<line x1="564.64" y1="561.5" x2="564.64" y2="573" stroke="#222" stroke-width="0.8"/>
<line x1="588.89" y1="561.5" x2="588.89" y2="573" stroke="#222" stroke-width="0.8"/>
<line x1="613.15" y1="561.5" x2="613.15" y2="573" stroke="#222" stroke-width="0.8"/>
<line x1="637.41" y1="561.5" x2="637.41" y2="573" stroke="#222" stroke-width="0.8"/>
<line x1="661.67" y1="561.5" x2="661.67" y2="573" stroke="#222" stroke-width="0.8"/>
<line x1="685.92" y1="561.5" x2="685.92" y2="573" stroke="#222" stroke-width="0.8"/>
<line x1="710.18" y1="561.5" x2="710.18" y2="573" stroke="#222" stroke-width="0.8"/>
<line x1="734.44" y1="561.5" x2="734.44" y2="573" stroke="#222" stroke-width="0.8"/>
<line x1="758.70" y1="561.5" x2="758.70" y2="573" stroke="#222" stroke-width="0.8"/>
<line x1="782.95" y1="561.5" x2="782.95" y2="573" stroke="#222" stroke-width="0.8"/>
<line x1="807.21" y1="561.5" x2="807.21" y2="573" stroke="#222" stroke-width="0.8"/>
<line x1="831.47" y1="561.5" x2="831.47" y2="573" stroke="#222" stroke-width="0.8"/>
<line x1="855.73" y1="561.5" x2="855.73" y2="573" stroke="#222" stroke-width="0.8"/>
<line x1="879.98" y1="561.5" x2="879.98" y2="573" stroke="#222" stroke-width="0.8"/>
<line x1="904.24" y1="561.5" x2="904.24" y2="573" stroke="#222" stroke-width="0.8"/>
<text class="lg" x="128.30" y="559.3">-30</text>
<text class="lg" x="152.56" y="559.3">-18</text>
<text class="lg" x="176.82" y="559.3">-16</text>
<text class="lg" x="201.07" y="559.3">-14</text>
<text class="lg" x="225.33" y="559.3">-12</text>
<text class="lg" x="249.59" y="559.3">-10</text>
<text class="lg" x="273.85" y="559.3">-8</text>
<text class="lg" x="298.10" y="559.3">-6</text>
<text class="lg" x="322.36" y="559.3">-4</text>
<text class="lg" x="346.62" y="559.3">-2</text>
<text class="lg" x="370.88" y="559.3">0</text>
<text class="lg" x="395.13" y="559.3">2</text>
<text class="lg" x="419.39" y="559.3">4</text>
<text class="lg" x="443.65" y="559.3">6</text>
<text class="lg" x="467.91" y="559.3">8</text>
<text class="lg" x="492.16" y="559.3">10</text>
<text class="lg" x="516.42" y="559.3">12</text>
<text class="lg" x="540.68" y="559.3">14</text>
<text class="lg" x="564.94" y="559.3">16</text>
<text class="lg" x="589.19" y="559.3">18</text>
<text class="lg" x="613.45" y="559.3">20</text>
<text class="lg" x="637.71" y="559.3">22</text>
<text class="lg" x="661.97" y="559.3">24</text>
<text class="lg" x="686.22" y="559.3">26</text>
<text class="lg" x="710.48" y="559.3">28</text>
<text class="lg" x="734.74" y="559.3">30</text>
<text class="lg" x="759.00" y="559.3">32</text>
<text class="lg" x="783.25" y="559.3">34</text>
<text class="lg" x="807.51" y="559.3">36</text>
<text class="lg" x="831.77" y="559.3">38</text>
<text class="lg" x="856.03" y="559.3">40</text>
<text class="lg" x="880.28" y="559.3">42</text>
<text class="lg" x="904.54" y="559.3">44</text>
<text class="lg" x="928.80" y="559.3">50</text>
<text class="ttl" x="239" y="16.5" textLength="456" lengthAdjust="spacing">Temperatura máxima (ºC) prevista para el martes 29 de junio de 2021</text>
<text class="sub" x="357.5" y="28.5" textLength="340" lengthAdjust="spacing">Fuente de datos: Predicción por municipios. AEMET OpenData</text>
<text class="cr" x="674.5" y="534" textLength="162" lengthAdjust="spacing">http://climaenmapas.blogspot.com</text>
<text class="cr" x="674.5" y="544.6" textLength="245" lengthAdjust="spacing">César Rodríguez Ballesteros, twitter: @crballesteros</text>
</svg></body></html>
